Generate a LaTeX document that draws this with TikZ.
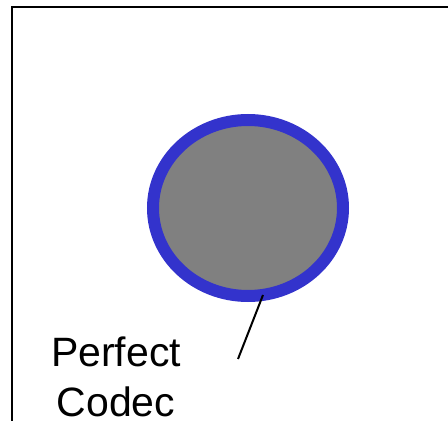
\documentclass[tikz,border=0pt]{standalone}
\usepackage{fontspec}
\setmainfont{Liberation Sans}
\usetikzlibrary{shapes.geometric}
\definecolor{rimblue}{HTML}{3333CC}
\definecolor{coregray}{HTML}{808080}
\tikzset{
  frameline/.style={line width=2.4pt, line cap=rect},
  codec/.style={ellipse, draw=rimblue, fill=coregray, line width=12pt, inner sep=0pt,
    minimum width=190pt, minimum height=176pt},
  lbl/.style={font=\fontsize{41pt}{51pt}\selectfont, align=center, inner sep=0pt},
  leader/.style={line width=2pt}
}
\begin{document}
\begin{tikzpicture}[x=1pt,y=1pt]
\useasboundingbox (0,0) rectangle (448,421);
\coordinate (ftop) at (448,414);
\coordinate (fcorner) at (12,414);
\coordinate (fbot) at (12,0);
\draw[frameline] (ftop) -- (fcorner) -- (fbot);
\node[codec] (pc) at (248,213) {};
\node[lbl, anchor=base] (label) at (116,4) {Perfect\\Codec};
\coordinate (ltop) at (263,126);
\coordinate (lbot) at (238,62);
\draw[leader] (ltop) -- (lbot);
\end{tikzpicture}
\end{document}
